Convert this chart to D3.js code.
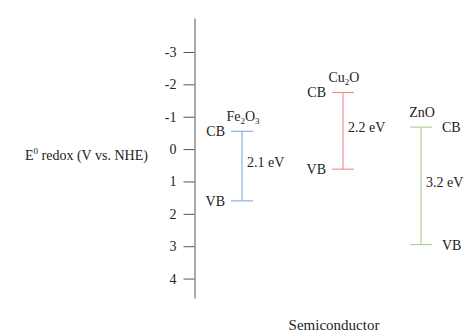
<!DOCTYPE html>
<html>
<head>
<meta charset="utf-8">
<script src="https://cdn.jsdelivr.net/npm/d3@7"></script>
<style>
  body { margin: 0; background: #fff; }
  text { font-family: "Liberation Serif", "Times New Roman", serif; fill: #222; }
</style>
</head>
<body>
<div id="chart"></div>
<script>
var width = 471;
var height = 336;

// band edges in V vs. NHE
var materials = ["Fe2O3", "Cu2O", "ZnO"];
var cbEdge = [-0.55, -1.75, -0.68];
var vbEdge = [1.6, 0.62, 2.95];
var gapLabels = ["2.1 eV", "2.2 eV", "3.2 eV"];
var yTicks = [-3, -2, -1, 0, 1, 2, 3, 4];

// formula pieces: [text, isSubscript]
var formulas = {
  "Fe2O3": [["Fe", 0], ["2", 1], ["O", 0], ["3", 1]],
  "Cu2O": [["Cu", 0], ["2", 1], ["O", 0]],
  "ZnO": [["ZnO", 0]]
};

var svg = d3.select("#chart")
  .append("svg")
  .attr("width", width)
  .attr("height", height);

var y = d3.scaleLinear()
  .domain([-4.05, 4.6])
  .range([18, 298]);

var x = d3.scaleOrdinal()
  .domain(materials)
  .range([242, 343, 421]);

var color = d3.scaleOrdinal()
  .domain(materials)
  .range(["#7d9fe0", "#f27f86", "#9ecb80"]);

var yAxis = d3.axisLeft(y)
  .tickValues(yTicks)
  .tickFormat(function(d) { return String(d); })
  .tickSize(11)
  .tickPadding(7)
  .tickSizeOuter(0);

var ag = svg.append("g")
  .attr("transform", "translate(194.5,0)")
  .call(yAxis)
  .attr("font-family", "Liberation Serif")
  .attr("font-size", 14);
ag.select(".domain").attr("stroke", "#555");
ag.selectAll(".tick line").attr("stroke", "#555");
ag.selectAll(".tick text").attr("fill", "#222");

// axis title
var yt = svg.append("text")
  .attr("x", 25)
  .attr("y", 160)
  .style("font-size", "14px");
yt.append("tspan").text("E");
yt.append("tspan").attr("dy", -6).style("font-size", "9px").text("0");
yt.append("tspan").attr("dy", 6).text(" redox (V vs. NHE)");

svg.append("text")
  .attr("x", 334)
  .attr("y", 330)
  .attr("text-anchor", "middle")
  .style("font-size", "15px")
  .text("Semiconductor");

var rows = materials.map(function(m, i) {
  return { name: m, cb: cbEdge[i], vb: vbEdge[i], gap: gapLabels[i], last: i === materials.length - 1 };
});

var bars = svg.selectAll("g.band")
  .data(rows)
  .enter()
  .append("g")
  .attr("class", "band");

bars.append("line")
  .attr("x1", function(d) { return x(d.name); })
  .attr("x2", function(d) { return x(d.name); })
  .attr("y1", function(d) { return y(d.cb); })
  .attr("y2", function(d) { return y(d.vb); })
  .attr("stroke", function(d) { return color(d.name); });

["cb", "vb"].forEach(function(k) {
  bars.append("line")
    .attr("x1", function(d) { return x(d.name) - 11; })
    .attr("x2", function(d) { return x(d.name) + 11; })
    .attr("y1", function(d) { return y(d[k]); })
    .attr("y2", function(d) { return y(d[k]); })
    .attr("stroke", function(d) { return color(d.name); });

  bars.append("text")
    .attr("x", function(d) { return d.last ? x(d.name) + 21 : x(d.name) - 17; })
    .attr("y", function(d) { return y(d[k]) + 5; })
    .attr("text-anchor", function(d) { return d.last ? "start" : "end"; })
    .style("font-size", "14px")
    .text(k.toUpperCase());
});

bars.append("text")
  .attr("x", function(d) { return x(d.name) + 5; })
  .attr("y", function(d) { return (y(d.cb) + y(d.vb)) / 2 + 1; })
  .style("font-size", "14px")
  .text(function(d) { return d.gap; });

// formula above the CB edge
var fl = bars.append("text")
  .attr("x", function(d) { return x(d.name) + 1; })
  .attr("y", function(d) { return y(d.cb) - 10; })
  .attr("text-anchor", "middle")
  .style("font-size", "14px");

fl.each(function(d) {
  var t = d3.select(this);
  var prev = 0;
  formulas[d.name].forEach(function(p) {
    var dy = p[1] ? 3 : 0;
    t.append("tspan")
      .attr("dy", dy - prev)
      .style("font-size", p[1] ? "9px" : "14px")
      .text(p[0]);
    prev = dy;
  });
});
</script>
</body>
</html>
